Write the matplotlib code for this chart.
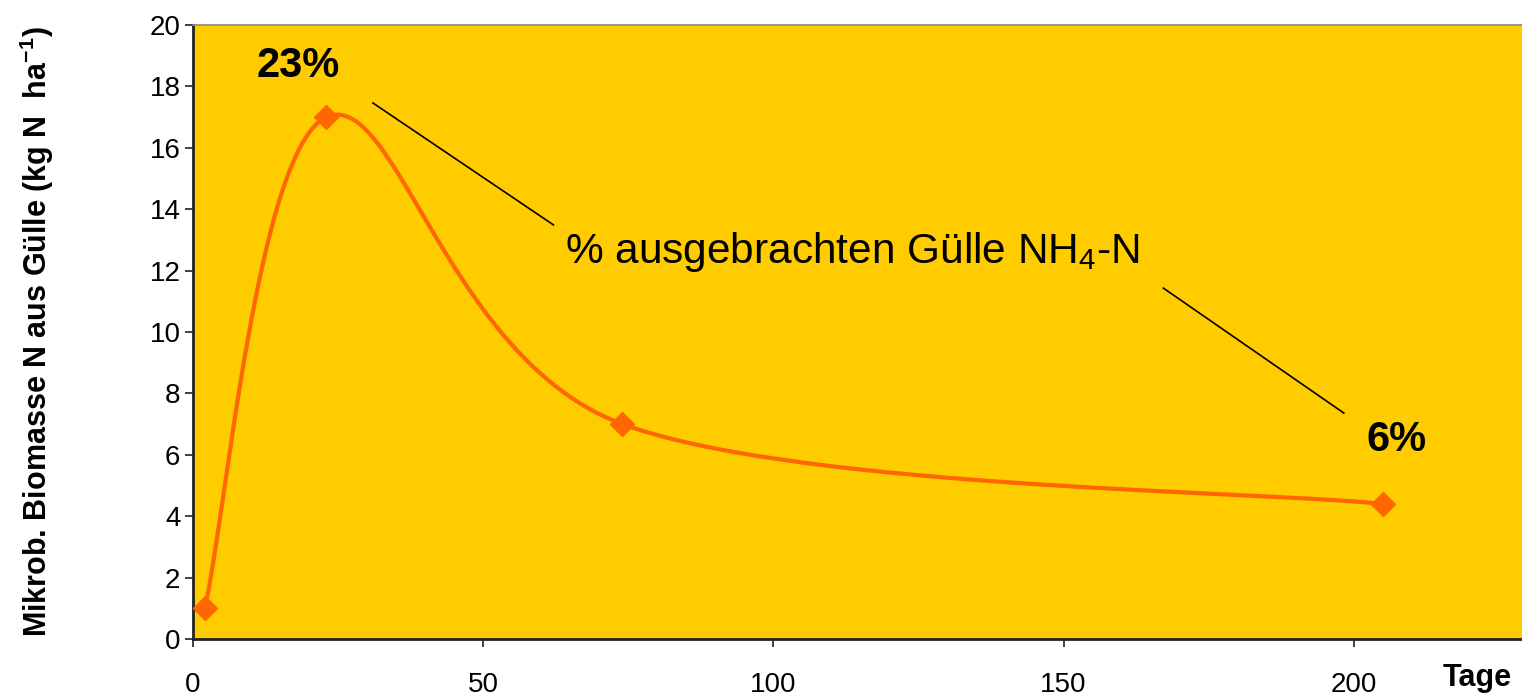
import numpy as np
import matplotlib
matplotlib.use("Agg")
import matplotlib.pyplot as plt

# ---- data ----
days = [2, 23, 74, 205]
biomass_n = [1.0, 17.0, 7.0, 4.4]
xticks = [0, 50, 100, 150, 200]
yticks = [0, 2, 4, 6, 8, 10, 12, 14, 16, 18, 20]
label_peak = "23%"
label_end = "6%"
label_mid = "% ausgebrachten Gülle NH$_4$-N"

plt.rcParams['font.family'] = ['Liberation Sans', 'DejaVu Sans']
plt.rcParams['mathtext.default'] = 'regular'


def excel_smooth(xs, ys, n=60):
    """Bezier smoothing between points (Excel-style, tension 1/6)."""
    P = np.column_stack([xs, ys]).astype(float)
    out = []
    m = len(P)
    for i in range(m - 1):
        p0 = P[i - 1] if i > 0 else P[i]
        p1 = P[i]
        p2 = P[i + 1]
        p3 = P[i + 2] if i + 2 < m else P[i + 1]
        c1 = p1 + (p2 - p0) / 6.0
        c2 = p2 - (p3 - p1) / 6.0
        t = np.linspace(0, 1, n)[:, None]
        seg = ((1 - t) ** 3) * p1 + 3 * ((1 - t) ** 2) * t * c1 + 3 * (1 - t) * t ** 2 * c2 + t ** 3 * p2
        out.append(seg if i == 0 else seg[1:])
    seg = np.vstack(out)
    return seg[:, 0], seg[:, 1]


fig = plt.figure(figsize=(15.22, 6.96), dpi=100)
ax = fig.add_axes([193 / 1522, (696 - 639) / 696, 1 - 193 / 1522, (639 - 25) / 696])
ax.set_facecolor('#FFCC00')

sx, sy = excel_smooth(days, biomass_n)
ax.plot(sx, sy, color='#FF6600', lw=3.0, solid_capstyle='round', zorder=3)
ax.plot(days, biomass_n, linestyle='none', marker='D', markersize=12,
        color='#FF6600', zorder=4)

ax.set_xlim(0, 229)
ax.set_ylim(0, 20)
ax.set_xticks(xticks)
ax.set_yticks(yticks)
ax.tick_params(axis='both', labelsize=20, direction='out', length=6, width=1.2, color='#222222')
ax.tick_params(axis='x', pad=18)
ax.tick_params(axis='y', pad=3)

ax.spines['right'].set_visible(False)
ax.spines['top'].set_color('#888888')
ax.spines['top'].set_linewidth(1.2)
ax.spines['left'].set_color('#222222')
ax.spines['left'].set_linewidth(2)
ax.spines['bottom'].set_color('#222222')
ax.spines['bottom'].set_linewidth(2)

ax.set_ylabel('Mikrob. Biomasse N aus Gülle (kg N  ha$^{-1}$)', fontsize=22,
              fontweight='bold', labelpad=0)
ax.yaxis.set_label_coords(-0.103, 0.5)
fig.text(1443 / 1522, 1 - 678 / 696, 'Tage', fontsize=22, fontweight='bold',
         ha='left', va='center')

ax.text(18.1, 18.66, label_peak, fontsize=30, fontweight='bold', ha='center', va='center')
ax.text(207.4, 6.48, label_end, fontsize=30, fontweight='bold', ha='center', va='center')
ax.text(113.6, 12.6, label_mid, fontsize=30.5, ha='center', va='center')
ax.plot([31.0, 62.1], [17.46, 13.49], color='black', lw=1.2, zorder=2)
ax.plot([167.2, 198.3], [11.43, 7.36], color='black', lw=1.2, zorder=2)

fig.savefig('out.png', dpi=100, facecolor='white')
